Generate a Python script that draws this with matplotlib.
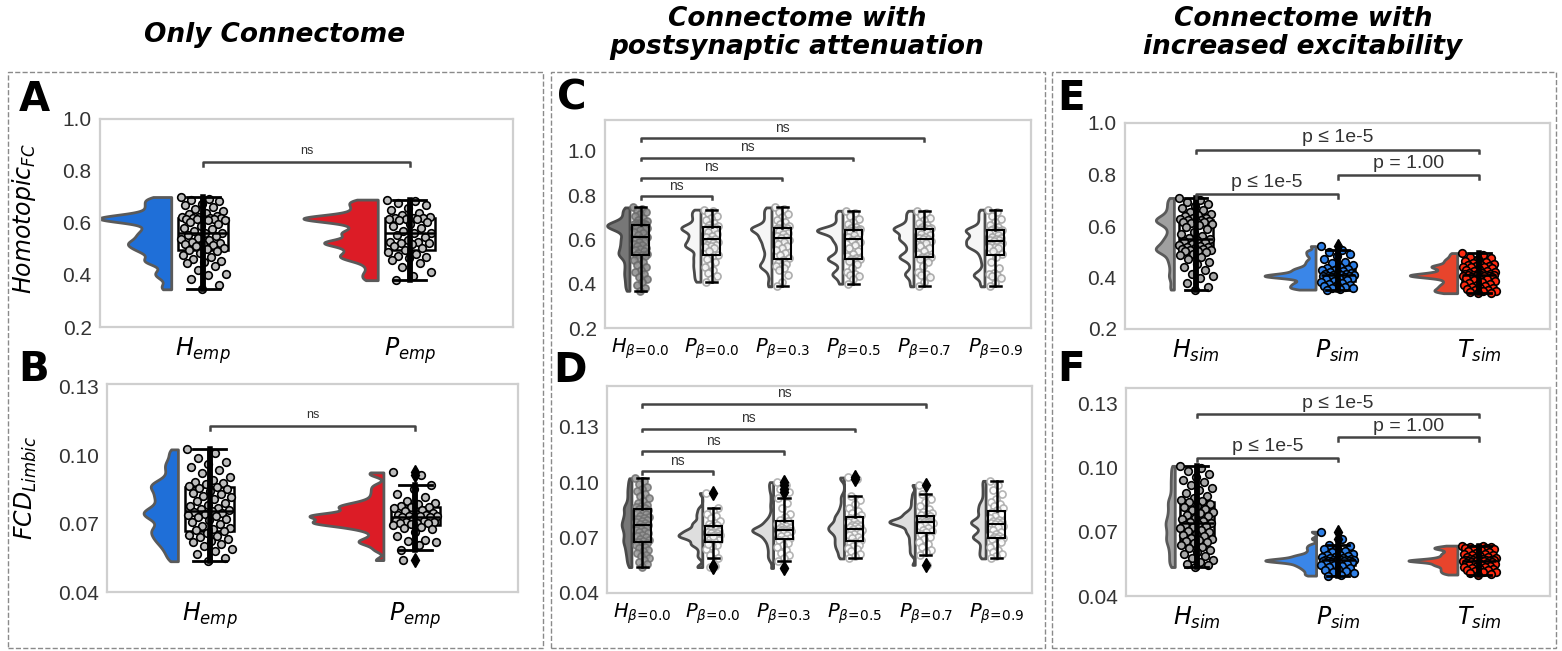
import numpy as np
import matplotlib.pyplot as plt
from matplotlib.patches import Rectangle

plt.rcParams['font.family'] = ['Liberation Sans', 'DejaVu Sans']
plt.rcParams['mathtext.fontset'] = 'dejavusans'

# ---------------- data ----------------
# A: Homotopic FC, empirical
homo_H_emp = [0.700, 0.694, 0.690, 0.683, 0.675, 0.668, 0.662, 0.655, 0.648, 0.640, 0.634, 0.628, 0.624, 0.622, 0.620,
              0.619, 0.618, 0.617, 0.616, 0.615, 0.614, 0.612, 0.610, 0.605, 0.598, 0.590, 0.582, 0.578, 0.571, 0.563,
              0.560, 0.555, 0.549, 0.544, 0.540, 0.534, 0.528, 0.524, 0.521, 0.519, 0.516, 0.510, 0.505, 0.500, 0.497,
              0.492, 0.486, 0.478, 0.470, 0.462, 0.455, 0.451, 0.448, 0.436, 0.418, 0.405, 0.400, 0.385, 0.360, 0.345]
homo_P_emp = [0.690, 0.684, 0.676, 0.668, 0.658, 0.650, 0.640, 0.632, 0.624, 0.621, 0.619,
              0.618, 0.617, 0.616, 0.615, 0.613, 0.605, 0.598, 0.590, 0.580, 0.570, 0.562, 0.560,
              0.555, 0.545, 0.535, 0.528, 0.526, 0.524, 0.522, 0.520, 0.512, 0.503, 0.497,
              0.490, 0.480, 0.475, 0.470, 0.465, 0.458, 0.448, 0.430, 0.410, 0.395, 0.380]

# B: FCD limbic, empirical
fcd_H_emp = [0.1026, 0.1010, 0.0990, 0.0972, 0.0960, 0.0948, 0.0935, 0.0921, 0.0905, 0.0893, 0.0885, 0.0878, 0.0872, 0.0866, 0.0863,
             0.0858, 0.0850, 0.0843, 0.0836, 0.0828, 0.0821, 0.0815, 0.0808, 0.0800, 0.0792, 0.0784, 0.0776, 0.0769, 0.0763, 0.0758,
             0.0755, 0.0750, 0.0745, 0.0741, 0.0737, 0.0733, 0.0728, 0.0722, 0.0715, 0.0707, 0.0699, 0.0690, 0.0682, 0.0675, 0.0670,
             0.0666, 0.0660, 0.0652, 0.0645, 0.0640, 0.0633, 0.0625, 0.0618, 0.0610, 0.0600, 0.0590, 0.0578, 0.0565, 0.0550, 0.0535]
fcd_P_emp = [0.0925, 0.0915, 0.0540,
             0.0868, 0.0850, 0.0832, 0.0815, 0.0800, 0.0792, 0.0785, 0.0779, 0.0775,
             0.0773, 0.0768, 0.0762, 0.0755, 0.0748, 0.0742, 0.0738, 0.0736, 0.0735, 0.0734, 0.0733, 0.0731,
             0.0729, 0.0722, 0.0715, 0.0710, 0.0707, 0.0706, 0.0705, 0.0704, 0.0702, 0.0698, 0.0692, 0.0686, 0.0683,
             0.0675, 0.0662, 0.0645, 0.0630, 0.0622, 0.0618, 0.0605, 0.0585]

# C: Homotopic FC, postsynaptic attenuation
homo_beta = [
    [0.745, 0.738, 0.730, 0.722, 0.715, 0.706, 0.698, 0.690, 0.684, 0.679, 0.675, 0.672, 0.670, 0.669, 0.668,
     0.666, 0.664, 0.662, 0.660, 0.658, 0.656, 0.654, 0.652, 0.650, 0.647, 0.642, 0.636, 0.628, 0.620, 0.611,
     0.607, 0.600, 0.594, 0.588, 0.581, 0.575, 0.569, 0.563, 0.558, 0.552, 0.546, 0.541, 0.536, 0.532, 0.529,
     0.525, 0.518, 0.508, 0.497, 0.486, 0.474, 0.463, 0.452, 0.442, 0.432, 0.420, 0.408, 0.395, 0.382, 0.368],
    [0.735, 0.728, 0.718, 0.708, 0.699, 0.688, 0.676, 0.667, 0.661, 0.657,
     0.654, 0.651, 0.648, 0.645, 0.641, 0.634, 0.625, 0.617, 0.610, 0.602,
     0.598, 0.590, 0.583, 0.577, 0.573, 0.570, 0.566, 0.560, 0.548, 0.532,
     0.522, 0.510, 0.498, 0.486, 0.475, 0.463, 0.450, 0.437, 0.423, 0.409],
    [0.745, 0.736, 0.724, 0.713, 0.702, 0.690, 0.679, 0.668, 0.660, 0.655,
     0.652, 0.650, 0.648, 0.646, 0.643, 0.638, 0.631, 0.624, 0.617, 0.611,
     0.606, 0.598, 0.590, 0.581, 0.572, 0.563, 0.553, 0.541, 0.528, 0.516,
     0.508, 0.496, 0.487, 0.482, 0.478, 0.472, 0.460, 0.438, 0.410, 0.388],
    [0.730, 0.718, 0.706, 0.694, 0.680, 0.668, 0.657, 0.650, 0.646, 0.644,
     0.642, 0.641, 0.640, 0.639, 0.637, 0.634, 0.628, 0.620, 0.611, 0.602,
     0.598, 0.588, 0.575, 0.562, 0.548, 0.535, 0.524, 0.518, 0.514, 0.511,
     0.508, 0.503, 0.490, 0.470, 0.452, 0.445, 0.441, 0.437, 0.420, 0.400],
    [0.730, 0.720, 0.709, 0.697, 0.686, 0.675, 0.665, 0.658, 0.653, 0.651,
     0.649, 0.647, 0.645, 0.640, 0.633, 0.626, 0.619, 0.612, 0.606, 0.602,
     0.600, 0.592, 0.583, 0.572, 0.560, 0.547, 0.535, 0.527, 0.523, 0.520,
     0.517, 0.512, 0.498, 0.478, 0.455, 0.446, 0.441, 0.432, 0.410, 0.388],
    [0.735, 0.722, 0.708, 0.694, 0.680, 0.666, 0.655, 0.648, 0.645, 0.643,
     0.641, 0.638, 0.634, 0.628, 0.620, 0.612, 0.606, 0.600, 0.598, 0.596,
     0.593, 0.585, 0.578, 0.574, 0.571, 0.568, 0.565, 0.560, 0.548, 0.536,
     0.520, 0.498, 0.470, 0.450, 0.443, 0.439, 0.435, 0.425, 0.405, 0.388],
]

# D: FCD limbic, postsynaptic attenuation
fcd_beta = [
    [0.1021, 0.1005, 0.0990, 0.0975, 0.0962, 0.0950, 0.0938, 0.0925, 0.0912, 0.0900, 0.0888, 0.0878, 0.0870, 0.0864, 0.0860,
     0.0855, 0.0848, 0.0840, 0.0832, 0.0825, 0.0818, 0.0812, 0.0806, 0.0800, 0.0794, 0.0788, 0.0782, 0.0777, 0.0772, 0.0768,
     0.0764, 0.0759, 0.0753, 0.0747, 0.0741, 0.0735, 0.0729, 0.0722, 0.0715, 0.0708, 0.0701, 0.0694, 0.0688, 0.0682, 0.0678,
     0.0672, 0.0665, 0.0658, 0.0650, 0.0642, 0.0634, 0.0626, 0.0617, 0.0608, 0.0598, 0.0588, 0.0577, 0.0566, 0.0555, 0.0540],
    [0.0941, 0.0545, 0.0540, 0.0861, 0.0845, 0.0830, 0.0818, 0.0805, 0.0790, 0.0780,
     0.0775, 0.0768, 0.0760, 0.0752, 0.0745, 0.0740, 0.0736, 0.0732, 0.0730, 0.0727,
     0.0722, 0.0716, 0.0712, 0.0710, 0.0708, 0.0706, 0.0703, 0.0698, 0.0692, 0.0686,
     0.0680, 0.0670, 0.0662, 0.0655, 0.0640, 0.0622, 0.0605, 0.0591, 0.0709, 0.0664],
    [0.1000, 0.0985, 0.0965, 0.0945, 0.0535, 0.0915, 0.0885, 0.0860, 0.0830, 0.0810, 0.0795,
     0.0787, 0.0780, 0.0772, 0.0765, 0.0758, 0.0752, 0.0747, 0.0744, 0.0742, 0.0740,
     0.0738, 0.0736, 0.0734, 0.0731, 0.0727, 0.0721, 0.0714, 0.0706, 0.0699, 0.0692,
     0.0685, 0.0672, 0.0660, 0.0648, 0.0633, 0.0618, 0.0603, 0.0590, 0.0575],
    [0.1025, 0.1018, 0.0927, 0.0905, 0.0880, 0.0860, 0.0845, 0.0832, 0.0822, 0.0812,
     0.0808, 0.0800, 0.0790, 0.0782, 0.0775, 0.0770, 0.0765, 0.0760, 0.0755, 0.0750,
     0.0746, 0.0742, 0.0738, 0.0733, 0.0727, 0.0720, 0.0712, 0.0703, 0.0695, 0.0686,
     0.0678, 0.0670, 0.0662, 0.0653, 0.0645, 0.0636, 0.0625, 0.0612, 0.0598, 0.0587],
    [0.0985, 0.0552, 0.0935, 0.0910, 0.0890, 0.0870, 0.0852, 0.0840, 0.0832, 0.0826,
     0.0822, 0.0815, 0.0808, 0.0802, 0.0797, 0.0793, 0.0790, 0.0788, 0.0786, 0.0785,
     0.0783, 0.0781, 0.0779, 0.0776, 0.0772, 0.0767, 0.0760, 0.0752, 0.0743, 0.0734,
     0.0728, 0.0718, 0.0705, 0.0692, 0.0678, 0.0665, 0.0650, 0.0635, 0.0620, 0.0605],
    [0.1007, 0.0985, 0.0960, 0.0935, 0.0910, 0.0890, 0.0880, 0.0870, 0.0858, 0.0848,
     0.0840, 0.0830, 0.0818, 0.0805, 0.0795, 0.0790, 0.0786, 0.0782, 0.0779, 0.0776,
     0.0772, 0.0765, 0.0755, 0.0742, 0.0730, 0.0720, 0.0712, 0.0706, 0.0702, 0.0700,
     0.0697, 0.0690, 0.0678, 0.0662, 0.0648, 0.0635, 0.0622, 0.0610, 0.0598, 0.0587],
]

# E: Homotopic FC, increased excitability
homo_H_sim = [0.709, 0.702, 0.694, 0.686, 0.678, 0.670, 0.662, 0.655, 0.648, 0.642, 0.637, 0.633, 0.630, 0.627, 0.625,
              0.623, 0.621, 0.619, 0.617, 0.615, 0.612, 0.608, 0.602, 0.595, 0.587, 0.578, 0.570, 0.562, 0.555, 0.550,
              0.546, 0.541, 0.536, 0.532, 0.528, 0.524, 0.520, 0.517, 0.514, 0.511, 0.509, 0.507, 0.505, 0.504, 0.503,
              0.499, 0.493, 0.486, 0.478, 0.470, 0.462, 0.452, 0.440, 0.428, 0.415, 0.404, 0.398, 0.380, 0.362, 0.353]
homo_P_sim = [0.522, 0.505, 0.498, 0.490, 0.482, 0.470, 0.462, 0.455, 0.448, 0.442, 0.437,
              0.434, 0.431, 0.428, 0.425, 0.422, 0.419, 0.416, 0.414, 0.412, 0.410, 0.409, 0.408,
              0.407, 0.406, 0.405, 0.404, 0.403, 0.402, 0.400, 0.397, 0.394, 0.390, 0.385,
              0.381, 0.378, 0.375, 0.372, 0.369, 0.366, 0.363, 0.361, 0.358, 0.355, 0.353]
homo_T_sim = [0.495, 0.488, 0.481, 0.475, 0.470, 0.466, 0.462, 0.458, 0.454, 0.450, 0.447, 0.445, 0.443, 0.442, 0.441,
              0.439, 0.436, 0.433, 0.430, 0.427, 0.424, 0.421, 0.419, 0.417, 0.415, 0.413, 0.412, 0.411, 0.410, 0.410,
              0.409, 0.408, 0.407, 0.406, 0.405, 0.404, 0.403, 0.402, 0.400, 0.398, 0.395, 0.391, 0.387, 0.383, 0.379,
              0.375, 0.372, 0.369, 0.366, 0.363, 0.360, 0.358, 0.355, 0.352, 0.350, 0.348, 0.346, 0.344, 0.341, 0.339]

# F: FCD limbic, increased excitability
fcd_H_sim = [0.1007, 0.0995, 0.0982, 0.0968, 0.0955, 0.0942, 0.0930, 0.0918, 0.0905, 0.0893, 0.0880, 0.0868, 0.0857, 0.0848, 0.0843,
             0.0838, 0.0830, 0.0822, 0.0815, 0.0808, 0.0800, 0.0792, 0.0785, 0.0778, 0.0771, 0.0765, 0.0758, 0.0751, 0.0746, 0.0741,
             0.0738, 0.0733, 0.0727, 0.0721, 0.0715, 0.0709, 0.0703, 0.0697, 0.0690, 0.0684, 0.0678, 0.0672, 0.0666, 0.0661, 0.0657,
             0.0652, 0.0645, 0.0638, 0.0630, 0.0622, 0.0614, 0.0605, 0.0596, 0.0587, 0.0578, 0.0569, 0.0560, 0.0551, 0.0543, 0.0535]
fcd_P_sim = [0.0700, 0.0668, 0.0640, 0.0632, 0.0625, 0.0618, 0.0610, 0.0603, 0.0597, 0.0592, 0.0589,
             0.0587, 0.0584, 0.0581, 0.0578, 0.0576, 0.0574, 0.0572, 0.0570, 0.0569, 0.0568, 0.0567, 0.0566,
             0.0565, 0.0564, 0.0563, 0.0562, 0.0561, 0.0559, 0.0557, 0.0555, 0.0552, 0.0549, 0.0546,
             0.0543, 0.0540, 0.0536, 0.0532, 0.0528, 0.0523, 0.0518, 0.0512, 0.0506, 0.0500, 0.0495]
fcd_T_sim = [0.0635, 0.0632, 0.0629, 0.0627, 0.0625, 0.0623, 0.0622, 0.0620, 0.0617, 0.0613, 0.0609, 0.0605, 0.0601, 0.0598, 0.0595,
             0.0592, 0.0589, 0.0586, 0.0583, 0.0580, 0.0578, 0.0576, 0.0574, 0.0572, 0.0570, 0.0569, 0.0568, 0.0567, 0.0566, 0.0566,
             0.0565, 0.0565, 0.0564, 0.0563, 0.0562, 0.0561, 0.0560, 0.0558, 0.0556, 0.0554, 0.0552, 0.0550, 0.0548, 0.0546, 0.0544,
             0.0542, 0.0540, 0.0537, 0.0534, 0.0531, 0.0528, 0.0525, 0.0522, 0.0519, 0.0516, 0.0513, 0.0510, 0.0507, 0.0503, 0.0500]

labels_emp = ['$H_{emp}$', '$P_{emp}$']
labels_beta = [r'$H_{\beta\!=\!0.0}$', r'$P_{\beta\!=\!0.0}$', r'$P_{\beta\!=\!0.3}$',
               r'$P_{\beta\!=\!0.5}$', r'$P_{\beta\!=\!0.7}$', r'$P_{\beta\!=\!0.9}$']
labels_sim = ['$H_{sim}$', '$P_{sim}$', '$T_{sim}$']

homo_ticks = [0.2, 0.4, 0.6, 0.8, 1.0]
fcd_ticks = [0.04, 0.07, 0.10, 0.13]


def half_kde(vals, n=300):
    v = np.asarray(vals)
    grid = np.linspace(v.min(), v.max(), n)
    bw = 0.15 * v.std(ddof=1)
    dens = np.exp(-0.5 * ((grid[:, None] - v[None, :]) / bw) ** 2).sum(1) / (len(v) * bw * np.sqrt(2 * np.pi))
    return grid, dens


def raincloud(ax, groups, vcols, pfill, pedge, wmax=0.36, thick=True, ms=30, jit=0.11, palpha=1.0):
    kdes = [half_kde(g) for g in groups]
    top = max(d.max() for _, d in kdes)
    for i, g in enumerate(groups):
        grid, dens = kdes[i]
        flat = i - 0.155
        ax.fill_betweenx(grid, flat - dens / top * wmax, flat, facecolor=vcols[i],
                         edgecolor='#4a4a4a' if not thick else '#5a5a5a', lw=2, zorder=1)
        n = len(g)
        offs = ((np.arange(n) * 0.618034) % 1 - 0.5) * 2 * jit
        ax.scatter(i + offs, g, s=ms, c=pfill[i], edgecolors=pedge[i], linewidths=1.2, zorder=3, alpha=palpha)
        lw_w = 4 if thick else 1.8
        bp = ax.boxplot([g], positions=[i], widths=0.24, patch_artist=True, manage_ticks=False,
                        boxprops=dict(facecolor='none', edgecolor='black', lw=1.8 if thick else 1.5),
                        medianprops=dict(color='black', lw=1.8 if thick else 1.5),
                        whiskerprops=dict(color='black', lw=lw_w),
                        capprops=dict(color='black', lw=2 if thick else 1.8),
                        capwidths=0.16,
                        flierprops=dict(marker='d', markerfacecolor='black', markeredgecolor='black', markersize=7))
        for b in bp['boxes']:
            b.set_zorder(2 if thick else 4)
        for art in bp['medians']:
            art.set_zorder(4)
        for art in bp['caps'] + bp['fliers'] + bp['whiskers']:
            art.set_zorder(4)
        if thick:
            lo = bp['whiskers'][0].get_ydata()[1]
            hi = bp['whiskers'][1].get_ydata()[1]
            ax.vlines(i, lo, hi, color='black', lw=lw_w, zorder=3.5)


def bracket(ax, x1, x2, y, h, text, fs, gap):
    ax.plot([x1, x1, x2, x2], [y - h, y, y, y - h], color='#444444', lw=1.8, zorder=5)
    ax.text((x1 + x2) / 2, y + gap, text, ha='center', va='bottom', fontsize=fs, color='#333333')


def style(ax, n, ylim, ticks, fmt, labels, xfs):
    ax.set_xlim(-0.5, n - 0.5)
    ax.set_ylim(*ylim)
    ax.set_yticks(ticks)
    ax.set_yticklabels([fmt.format(t) for t in ticks])
    ax.set_xticks(range(n))
    ax.set_xticklabels(labels, fontsize=xfs)
    ax.tick_params(length=0, labelsize=15, labelcolor='#333333', pad=6)
    ax.tick_params(axis='x', labelsize=xfs, labelcolor='black')
    for s in ax.spines.values():
        s.set_color('#cfcfcf')
        s.set_linewidth(1.6)


fig = plt.figure(figsize=(15.62, 6.51), dpi=100)
W, H = 1562, 651


def add_ax(l, t, r, b):
    return fig.add_axes([l / W, 1 - b / H, (r - l) / W, (b - t) / H])


axA = add_ax(100, 119, 513, 327)
axB = add_ax(107, 384, 518, 592)
axC = add_ax(605, 120, 1031, 328)
axD = add_ax(607, 386, 1032, 593)
axE = add_ax(1125, 123, 1550, 329)
axF = add_ax(1126, 388, 1550, 596)

blue_emp, red_emp = '#1f6fd8', '#dc1c26'
pgray = '#bdbdbd'

# A
raincloud(axA, [homo_H_emp, homo_P_emp], [blue_emp, red_emp], [pgray] * 2, ['black'] * 2, wmax=0.36)
style(axA, 2, (0.2, 1.0), homo_ticks, '{:.1f}', labels_emp, 17)
bracket(axA, 0, 1, 0.835, 0.015, 'ns', 9, 0.02)
axA.set_ylabel('$Homotopic_{FC}$', fontsize=17)
axA.yaxis.set_label_coords(-0.15, 0.52)

# B
raincloud(axB, [fcd_H_emp, fcd_P_emp], [blue_emp, red_emp], [pgray] * 2, ['black'] * 2, wmax=0.36)
style(axB, 2, (0.04, 0.1313), fcd_ticks, '{:.2f}', labels_emp, 17)
bracket(axB, 0, 1, 0.1128, 0.0017, 'ns', 9, 0.0023)
axB.set_ylabel('$FCD_{Limbic}$', fontsize=17)
axB.yaxis.set_label_coords(-0.165, 0.5)

# C
raincloud(axC, homo_beta, ['#777777'] + ['#f6f6f6'] * 5, ['#8a8a8a'] + ['#f4f4f4'] * 5,
          ['#6a6a6a'] + ['#a0a0a0'] * 5, wmax=0.36, thick=False, ms=26, jit=0.1, palpha=0.85)
style(axC, 6, (0.2, 1.14), homo_ticks, '{:.1f}', labels_beta, 14)
for k, yb in zip([1, 2, 3, 4], [0.796, 0.88, 0.969, 1.058]):
    bracket(axC, 0, k, yb, 0.012, 'ns', 10, 0.016)

# D
raincloud(axD, fcd_beta, ['#777777'] + ['#dedede'] * 5, ['#9a9a9a'] + ['#ffffff'] * 5,
          ['#707070'] + ['#a8a8a8'] * 5, wmax=0.36, thick=False, ms=26, jit=0.1, palpha=0.85)
style(axD, 6, (0.04, 0.152), fcd_ticks, '{:.2f}', labels_beta, 14)
for k, yb in zip([1, 2, 3, 4], [0.1059, 0.1166, 0.129, 0.1423]):
    bracket(axD, 0, k, yb, 0.0015, 'ns', 10, 0.002)

# E
sim_v = ['#a0a0a0', '#3a86e8', '#e8442c']
sim_p = ['#a8a8a8', '#2e7fe6', '#ff2a10']
raincloud(axE, [homo_H_sim, homo_P_sim, homo_T_sim], sim_v, sim_p, ['black'] * 3, wmax=0.36, jit=0.12)
style(axE, 3, (0.2, 1.0), homo_ticks, '{:.1f}', labels_sim, 17)
bracket(axE, 0, 1, 0.724, 0.015, 'p ≤ 1e-5', 14, 0.012)
bracket(axE, 1, 2, 0.797, 0.015, 'p = 1.00', 14, 0.012)
bracket(axE, 0, 2, 0.897, 0.015, 'p ≤ 1e-5', 14, 0.012)

# F
raincloud(axF, [fcd_H_sim, fcd_P_sim, fcd_T_sim], sim_v, sim_p, ['black'] * 3, wmax=0.36, jit=0.12)
style(axF, 3, (0.04, 0.137), fcd_ticks, '{:.2f}', labels_sim, 17)
bracket(axF, 0, 1, 0.1045, 0.0015, 'p ≤ 1e-5', 14, 0.0012)
bracket(axF, 1, 2, 0.114, 0.0015, 'p = 1.00', 14, 0.0012)
bracket(axF, 0, 2, 0.1248, 0.0015, 'p ≤ 1e-5', 14, 0.0012)

# dashed panel frames
for x0, x1 in [(8, 543), (551, 1045), (1052, 1556)]:
    fig.add_artist(Rectangle((x0 / W, 1 - 648 / H), (x1 - x0) / W, (648 - 72) / H, transform=fig.transFigure,
                             fill=False, ls='--', ec='#8a8a8a', lw=1))

# column titles
tkw = dict(ha='center', va='center', fontsize=19, fontweight='bold', style='italic', family='DejaVu Sans',
           linespacing=1.1)
fig.text(275 / W, 1 - 35 / H, 'Only Connectome', **tkw)
fig.text(797 / W, 1 - 33 / H, 'Connectome with\npostsynaptic attenuation', **tkw)
fig.text(1303 / W, 1 - 33 / H, 'Connectome with\nincreased excitability', **tkw)

# panel letters
for lab, x, y in [('A', 34, 100), ('B', 34, 370), ('C', 572, 98), ('D', 570, 371), ('E', 1071, 99), ('F', 1071, 370)]:
    fig.text(x / W, 1 - y / H, lab, ha='center', va='center', fontsize=29, fontweight='bold', family='DejaVu Sans')

fig.savefig('out.png', dpi=100)
